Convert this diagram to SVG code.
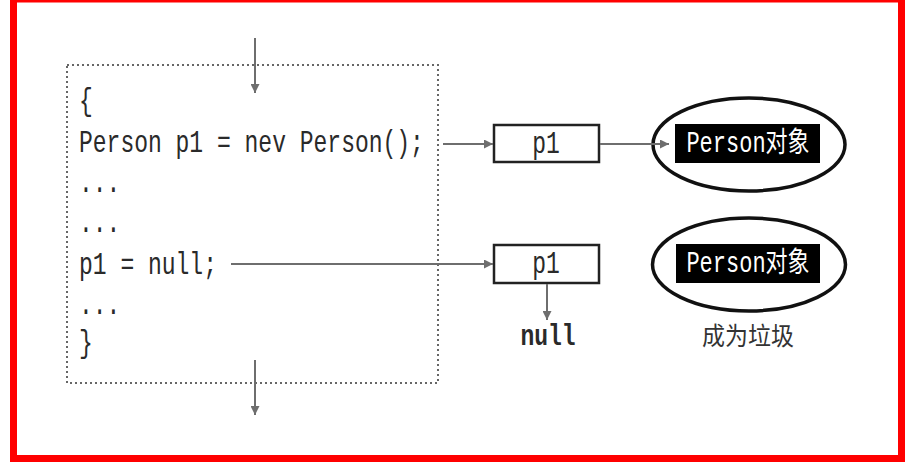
<svg xmlns="http://www.w3.org/2000/svg" width="912" height="463" viewBox="0 0 912 463">
<style>
.code{font-family:"Liberation Mono","Noto Sans CJK SC",monospace;font-size:23px;fill:#2a2a2a}
.lbl{font-family:"Liberation Mono","Noto Sans CJK SC",monospace;font-size:22px;fill:#ffffff}
.cn{font-family:"Noto Sans CJK SC",sans-serif;font-size:23px;fill:#333}
.conn{stroke:#6e6e6e;stroke-width:2;fill:none}
.box{fill:#fff;stroke:#222;stroke-width:2.5}
.ell{fill:#fff;stroke:#111;stroke-width:3.5}
</style>
<defs>
<marker id="ah" viewBox="0 0 10 10" refX="10" refY="5" markerWidth="10" markerHeight="9" markerUnits="userSpaceOnUse" orient="auto">
<path d="M0,0 L10,5 L0,10 z" fill="#6e6e6e"/>
</marker>
</defs>
<rect x="0" y="0" width="912" height="463" fill="#fff"/>
<rect x="13.5" y="-1" width="888" height="459.5" fill="none" stroke="#ff0000" stroke-width="7"/>
<g id="codeblock">
<rect x="67" y="65" width="371" height="318" fill="none" stroke="#666" stroke-width="2" stroke-dasharray="2,3"/>
<g class="code">
<text transform="translate(79,110) scale(1,1.4)">{</text>
<text transform="translate(79,152) scale(1,1.4)">Person p1 = nev Person();</text>
<text transform="translate(79,192) scale(1,1.4)">...</text>
<text transform="translate(79,232) scale(1,1.4)">...</text>
<text transform="translate(79,274) scale(1,1.4)">p1 = null;</text>
<text transform="translate(79,314) scale(1,1.4)">...</text>
<text transform="translate(79,352) scale(1,1.4)">}</text>
</g>
</g>
<g id="p1a">
<rect class="box" x="494" y="125" width="105" height="37"/>
<text class="code" text-anchor="middle" transform="translate(546,153) scale(1,1.35)">p1</text>
</g>
<g id="p1b">
<rect class="box" x="494" y="245" width="105" height="38"/>
<text class="code" text-anchor="middle" transform="translate(546,273) scale(1,1.35)">p1</text>
</g>
<g id="obj1">
<ellipse class="ell" cx="749" cy="144.5" rx="96" ry="46.5"/>
<rect x="675" y="124" width="145" height="39" fill="#000"/>
<text class="lbl" text-anchor="middle" transform="translate(748,152) scale(1,1.3)">Person对象</text>
</g>
<g id="obj2">
<ellipse class="ell" cx="749" cy="264.5" rx="96.5" ry="46.5"/>
<rect x="676" y="244" width="144" height="39" fill="#000"/>
<text class="lbl" text-anchor="middle" transform="translate(748,272) scale(1,1.3)">Person对象</text>
</g>
<g id="nulltext">
<text class="code" font-weight="bold" font-size="24" text-anchor="middle" transform="translate(548,345) scale(1,1.3)">null</text>
</g>
<g id="garbage">
<text class="cn" text-anchor="middle" transform="translate(748,345) scale(1,1.1)">成为垃圾</text>
</g>
<g id="connectors">
<line class="conn" x1="255" y1="38" x2="255" y2="93" marker-end="url(#ah)"/>
<line class="conn" x1="255" y1="360" x2="255" y2="415" marker-end="url(#ah)"/>
<line class="conn" x1="443" y1="144" x2="493" y2="144" marker-end="url(#ah)"/>
<line class="conn" x1="600" y1="144" x2="669" y2="144" marker-end="url(#ah)"/>
<line class="conn" x1="231" y1="264" x2="493" y2="264" marker-end="url(#ah)"/>
<line class="conn" x1="547" y1="284" x2="547" y2="320" marker-end="url(#ah)"/>
</g>
</svg>
